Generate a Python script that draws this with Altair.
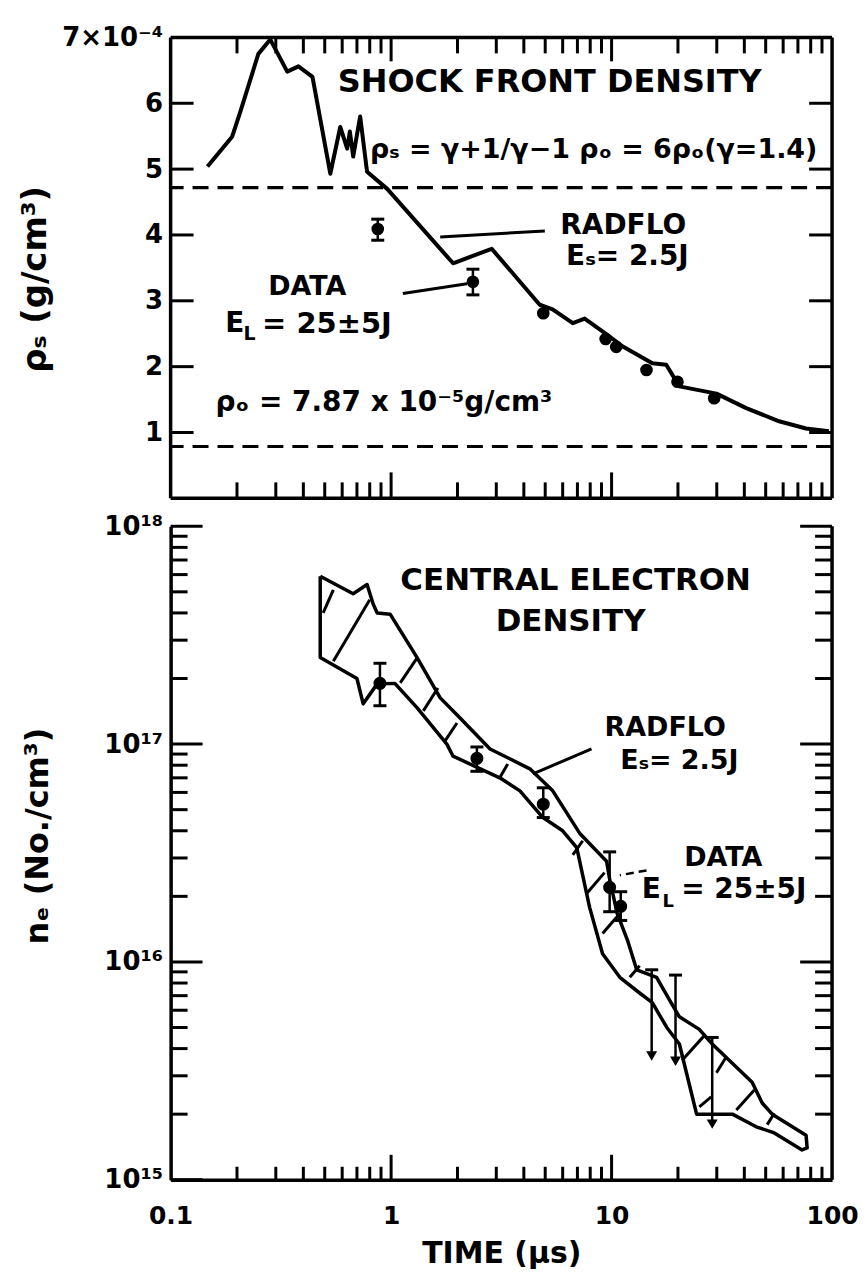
import altair as alt
import pandas as pd

FONT = "DejaVu Sans"
W, H1, H2 = 663, 462, 655

# ---------------- shared time axis (µs) ----------------
x_minor = [0.2, 0.3, 0.4, 0.5, 0.6, 0.7, 0.8, 0.9,
           2, 3, 4, 5, 6, 7, 8, 9,
           20, 30, 40, 50, 60, 70, 80, 90]
x_major = [1, 10]
x_label_values = [0.1, 1, 10, 100]

# ---------------- top panel: shock front density (x1e-4 g/cm3) ----------------
rho_tick_values = [1, 2, 3, 4, 5, 6]
rho_label_values = [1, 2, 3, 4, 5, 6, 7]
radflo_t = [0.147, 0.19, 0.207, 0.25, 0.283, 0.338, 0.38, 0.44, 0.53, 0.588, 0.632,
            0.65, 0.673, 0.724, 0.778, 0.96, 1.91, 2.86, 4.72, 5.4, 6.67, 7.55, 9.5,
            11.2, 15.3, 17.7, 20.3, 29.9, 40.8, 57.5, 76.2, 96.8]
radflo_rho = [5.04, 5.49, 5.87, 6.75, 6.97, 6.48, 6.56, 6.40, 4.93, 5.64, 5.31,
              5.57, 5.19, 5.80, 4.96, 4.70, 3.57, 3.79, 2.94, 2.87, 2.66, 2.73, 2.49,
              2.31, 2.05, 2.03, 1.70, 1.59, 1.37, 1.17, 1.06, 1.02]
ref_levels = [4.72, 0.787]
top_data_t = [0.87, 2.35, 4.9, 9.4, 10.5, 14.4, 19.9, 29.2]
top_data_rho = [4.09, 3.29, 2.81, 2.42, 2.30, 1.95, 1.77, 1.52]
top_err_t = [0.87, 2.35]
top_err_lo = [3.92, 3.09]
top_err_hi = [4.24, 3.48]

top_text = ["SHOCK FRONT DENSITY", "ρₛ = γ+1/γ−1 ρₒ = 6ρₒ(γ=1.4)", "RADFLO", "Eₛ= 2.5J", "DATA"]
top_text_t = [5.24, 8.3, 11.3, 11.8, 0.417]
top_text_v = [6.32, 5.29, 4.14, 3.67, 3.21]
top_text_size = [32, 27, 28, 28, 27]
top_left_text = ["E", "L", "= 25±5J", "ρₒ = 7.87 x 10⁻⁵g/cm³"]
top_left_t = [0.177, 0.214, 0.26, 0.16]
top_left_v = [2.65, 2.50, 2.65, 1.45]
top_left_size = [28, 19, 29, 28]
top_lead_t1 = [1.67, 1.13]
top_lead_v1 = [3.97, 3.11]
top_lead_t2 = [4.98, 2.21]
top_lead_v2 = [4.06, 3.26]

# ---------------- bottom panel: central electron density (No./cm3) ----------------
n_major = [1e15, 1e16, 1e17, 1e18]
n_minor = [2e15, 3e15, 4e15, 5e15, 6e15, 7e15, 8e15, 9e15,
           2e16, 3e16, 4e16, 5e16, 6e16, 7e16, 8e16, 9e16,
           2e17, 3e17, 4e17, 5e17, 6e17, 7e17, 8e17, 9e17]
upper_t = [0.477, 0.673, 0.778, 0.829, 0.865, 0.99, 1.31, 1.67, 2.05, 2.81, 4.26, 5.41,
           7.16, 9.49, 9.8, 10.6, 11.8, 13.0, 16.0, 18.3, 20.3, 25.0, 28.6, 43.4, 48.2,
           53.5, 76.2, 77.1]
upper_n = [5.9e17, 4.9e17, 5.4e17, 4.4e17, 4.0e17, 3.95e17, 2.5e17, 1.63e17, 1.32e17,
           9.5e16, 7.7e16, 6.1e16, 3.9e16, 2.9e16, 2.4e16, 1.67e16, 1.26e16, 9.2e15,
           8.5e15, 6.7e15, 5.6e15, 4.9e15, 4.2e15, 2.8e15, 2.25e15, 2.0e15, 1.6e15, 1.4e15]
lower_t = [0.477, 0.70, 0.747, 0.865, 1.04, 1.31, 1.79, 1.91, 3.11, 3.84, 4.88, 6.0, 6.95,
           7.95, 9.1, 10.9, 13.4, 15.3, 17.8, 20.3, 24.3, 35.3, 45.3, 54.7, 73.1]
lower_n = [2.5e17, 2.0e17, 1.53e17, 1.89e17, 1.9e17, 1.47e17, 1.0e17, 8.8e16, 7.0e16,
           6.1e16, 4.6e16, 4.0e16, 3.35e16, 1.78e16, 1.09e16, 8.5e15, 7.2e15, 6.5e15,
           5.0e15, 4.2e15, 2.0e15, 2.0e15, 1.75e15, 1.64e15, 1.37e15]
hatch_t1 = [0.492, 0.547, 1.10, 1.40, 1.75, 3.11, 6.67, 7.71, 9.10, 12.1, 20.9, 25.0, 29.9, 36.8, 50.8]
hatch_n1 = [4.0e17, 2.4e17, 1.91e17, 1.42e17, 1.03e17, 7.0e16, 3.1e16, 2.06e16, 1.35e16,
            8.5e15, 3.54e15, 2.16e15, 3.1e15, 2.09e15, 1.79e15]
hatch_t2 = [0.547, 0.80, 1.31, 1.63, 1.99, 3.38, 7.40, 9.29, 10.9, 13.4, 26.4, 28.3, 33.1, 44.4, 54.7]
hatch_n2 = [5.1e17, 4.6e17, 2.48e17, 1.81e17, 1.25e17, 8.1e16, 3.6e16, 2.57e16, 1.67e16,
            9.6e15, 4.6e15, 2.4e15, 3.66e15, 2.58e15, 2.02e15]
bot_data_t = [0.89, 2.45, 4.9, 9.8, 11.0]
bot_data_n = [1.9e17, 8.6e16, 5.3e16, 2.2e16, 1.8e16]
bot_err_lo = [1.5e17, 7.5e16, 4.6e16, 1.7e16, 1.55e16]
bot_err_hi = [2.35e17, 9.7e16, 6.3e16, 3.2e16, 2.1e16]
lim_t = [15.2, 19.5, 28.6]
lim_hi = [9.2e15, 8.7e15, 4.5e15]
lim_lo = [3.7e15, 3.5e15, 1.8e15]

bot_text = ["CENTRAL ELECTRON", "DENSITY", "RADFLO", "Eₛ= 2.5J", "DATA"]
bot_text_t = [6.87, 6.52, 17.5, 20.3, 32.1]
bot_text_n = [5.6e17, 3.63e17, 1.19e17, 8.4e16, 3.0e16]
bot_text_size = [31, 31, 27, 27, 27]
bot_left_text = ["E", "L", "= 25±5J"]
bot_left_t = [13.7, 17.0, 20.7]
bot_left_n = [2.13e16, 1.88e16, 2.13e16]
bot_left_size = [28, 18, 28]
bot_lead_t1 = [8.11]
bot_lead_n1 = [9.5e16]
bot_lead_t2 = [4.40]
bot_lead_n2 = [7.3e16]
bot_dlead_t1 = [14.4]
bot_dlead_n1 = [2.63e16]
bot_dlead_t2 = [10.9]
bot_dlead_n2 = [2.5e16]

# ---------------- scales / axes ----------------
xs = alt.Scale(type="log", domain=[0.1, 100], nice=False)
ys_top = alt.Scale(type="linear", domain=[0, 7], nice=False, zero=False)
ys_bot = alt.Scale(type="log", domain=[1e15, 1e18], nice=False)

top_y_axis = alt.Axis(values=rho_label_values,
                      labelExpr="datum.value == 7 ? '7×10⁻⁴' : datum.label",
                      ticks=False, domain=False, grid=False, labelFontSize=26,
                      labelPadding=8, title="ρₛ (g/cm³)", titleX=-135, titleY=242,
                      titleAngle=270, titleAlign="center", titleBaseline="middle",
                      titleFontSize=34)
bot_y_axis = alt.Axis(values=n_major,
                      labelExpr="'10' + ['¹⁵','¹⁶','¹⁷','¹⁸'][round(log(datum.value)/LN10) - 15]",
                      ticks=False, domain=True, domainWidth=3.5, domainColor="black",
                      grid=False, labelFontSize=26, labelPadding=8,
                      title="nₑ (No./cm³)", titleX=-133, titleY=310, titleAngle=270,
                      titleAlign="center", titleBaseline="middle", titleFontSize=32)
bot_x_axis = alt.Axis(values=x_label_values, format="~g", ticks=False, domain=True,
                      domainWidth=3.5, domainColor="black", grid=False, labelFlush=False,
                      labelFontSize=25, labelPadding=24, title="TIME (μs)",
                      titleFontSize=30, titlePadding=10)


def XT(f):
    return alt.X(f, type="quantitative", scale=xs, axis=None)


def YT(f):
    return alt.Y(f, type="quantitative", scale=ys_top, axis=top_y_axis)


def XB(f):
    return alt.X(f, type="quantitative", scale=xs, axis=bot_x_axis)


def YB(f):
    return alt.Y(f, type="quantitative", scale=ys_bot, axis=bot_y_axis)


def text_layer(d, X, Y, align, bold=True):
    return alt.Chart(d).mark_text(font=FONT, fontWeight="bold" if bold else "normal",
                                  color="black", align=align, baseline="middle").encode(
        x=X("t"), y=Y("v"), text="s:N", size=alt.Size("fs:Q", scale=None, legend=None))


def rule(d, width=3.0, **enc):
    return alt.Chart(d).mark_rule(color="black", strokeWidth=width, opacity=1).encode(**enc)


def cap(d, X, Y, field):
    return alt.Chart(d).mark_tick(color="black", orient="horizontal", size=13,
                                  thickness=3, opacity=1).encode(x=X("t"), y=Y(field))


d_one = pd.DataFrame({"k": [0]})
d_xmin = pd.DataFrame({"t": x_minor})
d_xmaj = pd.DataFrame({"t": x_major})

# ---------------- top panel ----------------
d_rad = pd.DataFrame({"t": radflo_t, "v": radflo_rho})
d_ref = pd.DataFrame({"v": ref_levels})
d_tpts = pd.DataFrame({"t": top_data_t, "v": top_data_rho})
d_terr = pd.DataFrame({"t": top_err_t, "lo": top_err_lo, "hi": top_err_hi})
d_ttxt = pd.DataFrame({"t": top_text_t, "v": top_text_v, "s": top_text, "fs": top_text_size})
d_tltxt = pd.DataFrame({"t": top_left_t, "v": top_left_v, "s": top_left_text, "fs": top_left_size})
d_tlead = pd.DataFrame({"t": top_lead_t1, "v": top_lead_v1, "t2": top_lead_t2, "v2": top_lead_v2})
d_rho_ticks = pd.DataFrame({"v": rho_tick_values})

top_layers = [
    alt.Chart(d_ref).mark_rule(color="black", strokeWidth=3.2, strokeDash=[16, 9]).encode(y=YT("v")),
    alt.Chart(d_rad).mark_line(color="black", strokeWidth=4, strokeJoin="round").encode(x=XT("t"), y=YT("v")),
    rule(d_terr, 2.5, x=XT("t"), y=YT("lo"), y2="hi"),
    cap(d_terr, XT, YT, "lo"),
    cap(d_terr, XT, YT, "hi"),
    alt.Chart(d_tpts).mark_point(color="black", filled=True, opacity=1, size=160, shape="circle").encode(x=XT("t"), y=YT("v")),
    rule(d_tlead, 3, x=XT("t"), x2="t2", y=YT("v"), y2="v2"),
    text_layer(d_ttxt, XT, YT, "center"),
    text_layer(d_tltxt, XT, YT, "left"),
    # frame
    rule(d_one, 3.5, x=alt.value(0), y=alt.value(0), y2=alt.value(H1)),
    rule(d_one, 3.5, x=alt.value(W), y=alt.value(0), y2=alt.value(H1)),
    rule(d_one, 3.5, y=alt.value(0), x=alt.value(0), x2=alt.value(W)),
    rule(d_one, 3.5, y=alt.value(H1), x=alt.value(0), x2=alt.value(W)),
    # inward ticks
    rule(d_rho_ticks, 3, y=YT("v"), x=alt.value(0), x2=alt.value(23)),
    rule(d_rho_ticks, 3, y=YT("v"), x=alt.value(W), x2=alt.value(W - 23)),
    rule(d_xmin, 3, x=XT("t"), y=alt.value(0), y2=alt.value(16)),
    rule(d_xmaj, 3, x=XT("t"), y=alt.value(0), y2=alt.value(24)),
    rule(d_xmin, 3, x=XT("t"), y=alt.value(H1), y2=alt.value(H1 - 16)),
    rule(d_xmaj, 3, x=XT("t"), y=alt.value(H1), y2=alt.value(H1 - 26)),
]
top = alt.layer(*top_layers).properties(width=W, height=H1)

# ---------------- bottom panel ----------------
band_t = upper_t + lower_t[::-1] + [upper_t[0]]
band_n = upper_n + lower_n[::-1] + [upper_n[0]]
d_band = pd.DataFrame({"t": band_t, "v": band_n, "i": list(range(len(band_t)))})
d_hatch = pd.DataFrame({"t": hatch_t1, "v": hatch_n1, "t2": hatch_t2, "v2": hatch_n2})
d_bpts = pd.DataFrame({"t": bot_data_t, "v": bot_data_n, "lo": bot_err_lo, "hi": bot_err_hi})
d_lim = pd.DataFrame({"t": lim_t, "lo": lim_lo, "hi": lim_hi})
d_btxt = pd.DataFrame({"t": bot_text_t, "v": bot_text_n, "s": bot_text, "fs": bot_text_size})
d_bltxt = pd.DataFrame({"t": bot_left_t, "v": bot_left_n, "s": bot_left_text, "fs": bot_left_size})
d_blead = pd.DataFrame({"t": bot_lead_t1, "v": bot_lead_n1, "t2": bot_lead_t2, "v2": bot_lead_n2})
d_bdlead = pd.DataFrame({"t": bot_dlead_t1, "v": bot_dlead_n1, "t2": bot_dlead_t2, "v2": bot_dlead_n2})
d_nmaj = pd.DataFrame({"v": n_major})
d_nmin = pd.DataFrame({"v": n_minor})

bot_layers = [
    alt.Chart(d_band).mark_line(color="black", strokeWidth=3.5, strokeJoin="round").encode(
        x=XB("t"), y=YB("v"), order=alt.Order("i:Q")),
    rule(d_hatch, 3, x=XB("t"), x2="t2", y=YB("v"), y2="v2"),
    rule(d_bpts, 2.5, x=XB("t"), y=YB("lo"), y2="hi"),
    cap(d_bpts, XB, YB, "hi"),
    cap(d_bpts, XB, YB, "lo"),
    alt.Chart(d_bpts).mark_point(color="black", filled=True, opacity=1, size=170, shape="circle").encode(x=XB("t"), y=YB("v")),
    rule(d_lim, 2.5, x=XB("t"), y=YB("lo"), y2="hi"),
    cap(d_lim, XB, YB, "hi"),
    alt.Chart(d_lim).mark_point(color="black", filled=True, opacity=1, size=120, shape="triangle-down").encode(x=XB("t"), y=YB("lo")),
    rule(d_blead, 3, x=XB("t"), x2="t2", y=YB("v"), y2="v2"),
    alt.Chart(d_bdlead).mark_rule(color="black", strokeWidth=2.5, strokeDash=[8, 5]).encode(x=XB("t"), x2="t2", y=YB("v"), y2="v2"),
    text_layer(d_btxt, XB, YB, "center", bold=True),
    text_layer(d_bltxt, XB, YB, "left", bold=True),
    # frame on the right
    rule(d_one, 3.5, x=alt.value(W), y=alt.value(0), y2=alt.value(H2)),
    # inward ticks
    rule(d_nmaj, 3, y=YB("v"), x=alt.value(0), x2=alt.value(32)),
    rule(d_nmin, 3, y=YB("v"), x=alt.value(0), x2=alt.value(17)),
    rule(d_nmaj, 3, y=YB("v"), x=alt.value(W), x2=alt.value(W - 32)),
    rule(d_nmin, 3, y=YB("v"), x=alt.value(W), x2=alt.value(W - 17)),
    rule(d_xmin, 3, x=XB("t"), y=alt.value(H2), y2=alt.value(H2 - 13)),
    rule(d_xmaj, 3, x=XB("t"), y=alt.value(H2), y2=alt.value(H2 - 25)),
]
bottom = alt.layer(*bot_layers).properties(width=W, height=H2)

chart = alt.vconcat(top, bottom, spacing=13).properties(
    padding={"left": 11, "top": 15, "right": 0, "bottom": 5},
    background="white",
).configure_view(strokeOpacity=0).configure_axis(
    labelFont=FONT, titleFont=FONT, labelFontWeight="bold", titleFontWeight="bold",
    labelColor="black", titleColor="black")

chart.save("out.html", embed_options={"renderer": "svg", "actions": False})
